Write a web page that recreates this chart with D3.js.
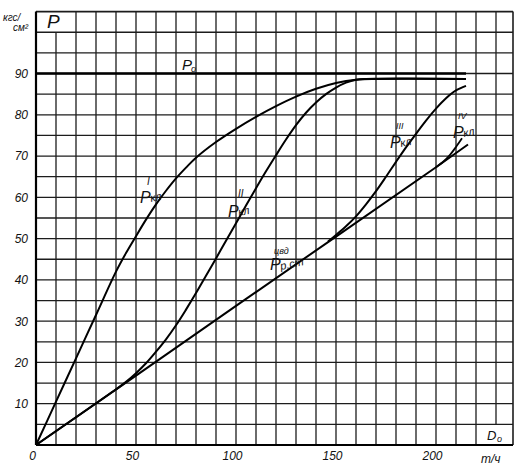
<!DOCTYPE html>
<html><head><meta charset="utf-8">
<script src="https://cdn.jsdelivr.net/npm/d3@7"></script>
<style>
html,body{margin:0;padding:0;background:#fff;}
svg text{font-family:"Liberation Sans","DejaVu Sans",sans-serif;font-style:italic;fill:#111;}
</style></head>
<body><svg id="c" width="527" height="465"></svg>
<script>
// ---- data ----
const xTicks = [0, 50, 100, 150, 200];
const yTicks = [10, 20, 30, 40, 50, 60, 70, 80, 90];

const p0X = [0, 215];
const p0Y = [90, 90];

const curveIX = [0, 10, 20, 30, 40, 45, 50, 55, 60, 65, 70, 75, 80, 90, 100, 110, 120, 130, 140, 150, 160, 170, 215];
const curveIY = [0, 10.5, 21, 31.5, 42, 46.5, 50.6, 54.6, 58.3, 61.6, 64.6, 67.2, 69.6, 73.4, 76.6, 79.5, 82.1, 84.4, 86.3, 87.7, 88.5, 88.7, 88.7];

const curveIIX = [0, 40, 45, 50, 55, 60, 65, 70, 75, 80, 85, 90, 95, 100, 105, 110, 115, 120, 125, 130, 135, 140, 145, 150, 155, 160, 165, 215];
const curveIIY = [0, 13.5, 15.3, 17.4, 19.8, 22.6, 25.6, 29, 32.8, 36.8, 41, 45.2, 49.5, 53.7, 58, 62.2, 66.3, 70.2, 74, 77.5, 80.5, 83, 85, 86.6, 87.8, 88.5, 88.7, 88.7];

const curveIIIX = [146, 150, 155, 160, 165, 170, 175, 180, 185, 190, 195, 200, 205, 210, 215];
const curveIIIY = [49.3, 50.9, 53, 55.4, 58.3, 61.5, 65, 68.6, 72.1, 75.4, 78.6, 81.5, 84, 85.9, 87];

const curveIVX = [200, 204, 207, 210, 213];
const curveIVY = [67.3, 68.8, 70.3, 72.2, 74.3];

const pstX = [0, 50, 100, 150, 200, 216];
const pstY = [0, 16.8, 33.7, 50.5, 67.3, 72.8];

// ---- drawing ----
const svg = d3.select("#c");
const x = d3.scaleLinear().domain([0, 238.5]).range([36, 513]);
const y = d3.scaleLinear().domain([0, 105]).range([445, 11.6]);
const xMax = 238.5, yMax = 105;

const g = svg.append("g");
const gridColor = "#1c1c1c";

// vertical grid lines
d3.range(10, 231, 10).forEach(v => {
  let y0 = 0, y1 = yMax;
  if (v === 10) y1 = 100;      // P label box at top-left
  if (v === 230) y0 = 5;       // D0 label box at bottom-right
  g.append("line").attr("x1", x(v)).attr("x2", x(v)).attr("y1", y(y0)).attr("y2", y(y1))
    .attr("stroke", gridColor).attr("stroke-width", 1.3);
});
// horizontal grid lines
d3.range(5, 101, 5).forEach(v => {
  g.append("line").attr("x1", x(0)).attr("x2", x(xMax)).attr("y1", y(v)).attr("y2", y(v))
    .attr("stroke", gridColor).attr("stroke-width", 1.3);
});
// borders
g.append("line").attr("x1", x(0)).attr("x2", x(xMax)).attr("y1", y(yMax)).attr("y2", y(yMax)).attr("stroke", gridColor).attr("stroke-width", 1.6);
g.append("line").attr("x1", x(xMax)).attr("x2", x(xMax)).attr("y1", y(0)).attr("y2", y(yMax)).attr("stroke", gridColor).attr("stroke-width", 1.6);
g.append("line").attr("x1", x(0)).attr("x2", x(0)).attr("y1", y(0)).attr("y2", y(yMax)).attr("stroke", "#000").attr("stroke-width", 2.2);
g.append("line").attr("x1", x(0)).attr("x2", x(xMax)).attr("y1", y(0)).attr("y2", y(0)).attr("stroke", "#000").attr("stroke-width", 2.2);

// axes for tick labels
const ax = svg.append("g").attr("transform", `translate(0,${y(0)})`)
  .call(d3.axisBottom(x).tickValues(xTicks).tickSize(0).tickPadding(6));
ax.select(".domain").remove();
ax.selectAll("text").attr("font-size", 12).attr("dx", -4).style("font-family", null);

const ay = svg.append("g").attr("transform", `translate(${x(0)},0)`)
  .call(d3.axisLeft(y).tickValues(yTicks).tickSize(0).tickPadding(8));
ay.select(".domain").remove();
ay.selectAll("text").attr("font-size", 12).style("font-family", null);

// curves
const line = d3.line().x(d => x(d[0])).y(d => y(d[1]));
const zip = (a, b) => a.map((v, i) => [v, b[i]]);
const smooth = d3.curveCatmullRom.alpha(0.5);
[[p0X, p0Y, 2.4, d3.curveLinear], [pstX, pstY, 2, d3.curveLinear],
 [curveIX, curveIY, 2, smooth], [curveIIX, curveIIY, 2, smooth],
 [curveIIIX, curveIIIY, 2, smooth], [curveIVX, curveIVY, 1.8, smooth]]
.forEach(([xs, ys, w, c]) => {
  svg.append("path").attr("d", line.curve(c)(zip(xs, ys)))
    .attr("fill", "none").attr("stroke", "#000").attr("stroke-width", w).attr("stroke-linejoin", "round");
});

// labels
function txt(px, py, s, size, rot) {
  const t = svg.append("text").attr("x", px).attr("y", py).attr("font-size", size).text(s);
  if (rot) t.attr("transform", `rotate(${rot},${px},${py})`);
  return t;
}
// axis box labels
txt(47, 28, "P", 19);
txt(3, 21, "кгс/", 10);
txt(13, 31, "см²", 10);
txt(487, 440, "D", 13);
txt(497, 442, "o", 9);
txt(481, 463, "т/ч", 12);

// P0
txt(182, 70, "P", 15);
txt(191, 72, "o", 9);
// P_кл^I
txt(140, 203, "P", 16);
txt(151, 202, "кл", 11, -12);
txt(147, 185, "I", 10);
// P_кл^II
txt(228, 217, "P", 16);
txt(239, 216, "кл", 11, -12);
txt(238, 197, "II", 10);
// P_кл^III
txt(390, 148, "P", 16);
txt(401, 147, "кл", 11, -12);
txt(396, 129, "III", 9);
// P_кл^IV
txt(453, 138, "P", 16);
txt(464, 137, "кл", 11, -12);
txt(458, 119, "IV", 9);
// P_р.ст^цвд
txt(270, 270, "P", 16);
txt(281, 270, "р.ст", 11, -12);
txt(274, 254, "цвд", 9);
</script></body></html>
